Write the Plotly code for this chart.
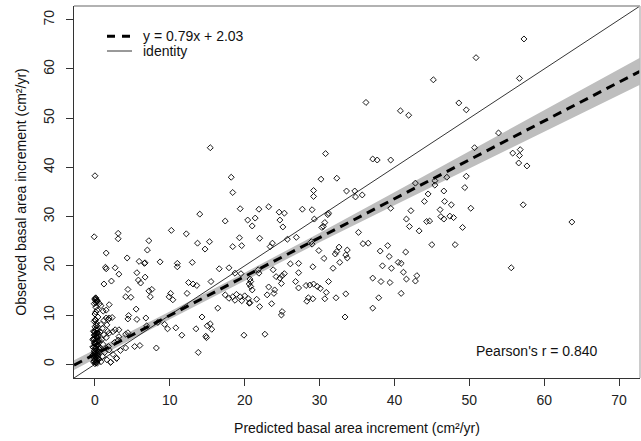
import plotly.graph_objects as go

# Predicted vs observed basal area increment (cm²/yr)
pred = [
    # cluster of near-zero predictions
    0.0, 0.1, -0.2, 0.2, 0.0, 0.3, -0.1, 0.1, 0.4, -0.2, 0.0, 0.2, 0.5, -0.1, 0.3, 0.0, 0.1, -0.3,
    0.2, 0.4, 0.0, -0.1, 0.3, 0.1, 0.6, -0.2, 0.0, 0.2, 0.4, -0.1, 0.1, 0.3, 0.0, -0.2, 0.2, 0.1,
    0.3, -0.1, 0.5, 0.2, -0.3, 0.4, 0.1, 0.6, -0.2, 0.3, 0.1, 0.5, -0.3, 0.3, 0.0, 0.5, -0.1, 0.4,
    0.0, 0.2, 0.1, 0.0, 0.3, 0.1, -0.1, 0.2, 0.0, 0.1, 0.3, 0.0, 0.2, -0.1, 0.4, 0.1,
    0.8, 1.0, 1.3, 0.7, 1.1, 0.9, 1.5, 1.8, 2.1, 2.9, 1.6, 2.4, 1.2, 0.7, 2.6, 3.4, 1.9,
    0.2, 0.0, 0.4, 0.1, 0.3, -0.1, 0.2, 0.5, 0.0, 0.3, 0.1, 0.4, -0.2, 0.2, 0.0, 0.3,
    0.0, -0.1,
    # low predictions
    3.1, 3.1, 7.2, 10.2, 12.2, 1.5, 7.0, 13.7, 15.3, 14.7, 18.4, 19.6, 19.3, 4.3, 5.9, 6.6, 6.7,
    8.7, 11.0, 11.0, 13.0, 1.4, 1.5, 2.7, 3.2, 1.2, 2.2, 5.6, 5.8, 6.1, 6.7, 7.2, 7.6, 4.4, 4.1,
    4.8, 7.4, 10.1, 9.9, 10.4, 12.3, 12.5, 13.1, 13.6, 15.5, 16.6, 17.9, 18.7, 19.5, 20.7, 21.9,
    20.6, 20.8, 21.0, 20.0, 20.5, 20.7, 0.1, 0.2, 0.3, 0.1, 0.6, 0.8, 1.1, 1.5, 1.9, 0.0, 0.0, 0.2,
    1.5, 1.8, 1.9, 2.3, 0.8, 1.0, 1.2, 1.6, 1.7, 1.9, 2.4, 2.7, 3.2, 3.2, 3.1, 4.1, 4.4, 4.4, 5.6,
    5.5, 4.5, 6.8, 6.9, 8.2, 9.7, 10.8, 8.4, 9.3, 4.1, 5.3, 6.0, 2.9, 2.1, 13.5, 14.8, 14.9, 11.6,
    13.8, 14.3, 15.0, 15.4, 15.6, 16.4, 17.9, 18.4, 18.7, 17.4, 18.9, 19.4, 19.6, 19.9, 21.6, 22.0,
    21.8,
    # upper-left scatter
    15.4, 14.0, 18.4, 19.4, 20.4, 17.4, 18.2,
    # mid-range predictions
    36.2, 40.8, 41.9, 48.6, 49.6, 30.8, 37.1, 37.7, 39.5, 30.2, 32.3, 29.2, 29.2, 33.6, 34.7, 34.8,
    35.7, 21.9, 23.2, 21.4, 21.0, 24.6, 25.3, 24.7, 25.1, 27.7, 29.0, 31.2, 31.1, 29.3, 30.7, 30.5,
    39.5, 42.8, 45.4, 45.4, 47.0, 49.6, 49.4, 50.7, 53.9, 41.6, 42.0, 42.2, 43.3, 44.0, 44.3, 44.7,
    44.5, 46.6, 46.7, 47.6, 46.1, 46.2, 46.6, 47.4, 47.9, 49.1, 50.2, 45.0, 48.1, 35.2, 35.8, 36.5,
    32.6, 32.3, 32.1, 29.9, 33.7, 33.5, 33.7, 32.7, 31.8, 30.6, 30.3, 29.1, 31.2, 27.2, 26.1, 27.2,
    26.8, 27.2, 28.2, 28.7, 29.2, 29.7, 30.1, 30.9, 28.5, 29.1, 28.3, 30.7, 32.2, 33.5, 33.4, 25.0,
    24.9, 23.6, 22.7, 23.0, 23.2, 24.0, 23.9, 24.2, 24.9, 24.7, 25.3, 25.0, 23.8, 26.9, 25.7, 23.7,
    23.4, 22.0, 28.9, 29.0, 20.8, 20.6, 37.1, 38.2, 39.4, 38.4, 39.6, 38.1, 39.1, 39.3, 40.5, 40.9,
    41.5, 41.2, 41.6, 42.8, 43.0, 40.9, 37.9, 37.1,
    # high predictions
    45.2, 57.3, 50.9, 56.7, 55.8, 56.8, 56.7, 56.6, 57.7, 57.2, 63.7, 55.6,
]

obs = [
    0.1, 0.3, 0.5, 0.7, 0.9, 1.1, 1.3, 1.5, 1.7, 1.9, 2.1, 2.3, 2.5, 2.7, 2.9, 3.1, 3.3, 3.5,
    3.7, 3.9, 4.1, 4.3, 4.5, 4.7, 4.9, 5.1, 5.3, 5.5, 5.7, 5.9, 6.1, 6.3, 6.5, 6.7, 6.9, 7.1,
    0.2, 0.6, 1.0, 1.4, 1.8, 2.2, 2.6, 3.0, 3.4, 3.8, 4.2, 4.6, 5.0, 5.4, 5.8, 6.2, 6.6, 7.0,
    7.6, 8.3, 9.0, 10.2, 11.0, 11.6, 12.3, 12.7, 13.1, 13.5, 12.9, 13.3, 7.9, 8.7, 9.6, 10.6,
    0.5, 1.6, 2.4, 3.2, 4.0, 5.0, 5.4, 3.6, 0.4, 1.2, 0.9, 2.0, 6.0, 6.6, 4.4, 2.8, 2.9,
    0.4, 0.8, 1.2, 1.6, 2.0, 2.4, 2.8, 3.2, 3.6, 4.0, 4.4, 4.8, 5.2, 5.6, 6.0, 6.4,
    38.3, 25.9,
    26.6, 25.5, 25.1, 27.2, 26.5, 22.6, 23.2, 24.6, 24.9, 23.4, 23.9, 24.1, 25.7, 21.6, 20.9, 20.5, 20.6,
    20.8, 20.5, 19.8, 20.7, 19.7, 19.4, 19.6, 18.3, 16.3, 16.9, 18.6, 17.1, 16.5, 17.7, 14.9, 15.2, 15.2, 13.7,
    13.6, 13.7, 14.4, 13.7, 13.1, 14.4, 16.6, 16.3, 16.0, 16.8, 19.4, 19.6, 18.5, 18.4, 17.3, 18.5,
    16.3, 15.8, 15.1, 13.9, 13.3, 12.5, 13.4, 13.1, 12.8, 12.5, 12.3, 11.9, 10.8, 11.0, 12.1, 10.2, 9.0, 7.8,
    9.4, 9.1, 9.4, 9.5, 8.1, 7.3, 8.9, 8.0, 6.7, 6.3, 6.6, 7.0, 7.0, 5.6, 4.9, 6.1, 6.4, 9.2, 9.1,
    11.2, 9.9, 9.4, 7.8, 3.3, 7.2, 7.4, 8.5, 8.1, 3.3, 3.6, 3.8, 1.2, 0.4, 7.2, 5.7, 5.4, 5.9,
    2.4, 9.6, 7.8, 8.2, 7.1, 11.4, 13.4, 13.7, 13.0, 14.1, 14.2, 13.7, 12.9, 5.9, 13.2, 11.7,
    19.2,
    44.0, 30.5, 34.9, 31.6, 29.3, 29.1, 38.0,
    53.2, 51.5, 50.6, 53.1, 51.7, 42.8, 41.7, 41.5, 41.5, 37.6, 37.8, 35.3, 34.1, 35.2, 35.2, 34.0,
    34.4, 31.5, 32.0, 29.7, 28.1, 30.9, 30.7, 29.3, 27.9, 31.5, 31.4, 30.7, 30.4, 29.5, 28.8, 28.0,
    31.7, 36.8, 37.3, 36.4, 38.0, 38.2, 35.9, 44.0, 47.0, 29.5, 28.0, 31.2, 27.1, 33.1, 29.0, 29.1,
    34.6, 35.2, 33.1, 32.4, 31.4, 30.0, 29.5, 30.1, 29.8, 27.8, 31.7, 24.3, 24.3, 26.8, 24.5, 24.6,
    23.8, 22.9, 22.4, 23.1, 23.2, 22.2, 21.6, 20.7, 19.5, 21.5, 27.8, 19.8, 16.8, 20.5, 20.4, 18.6,
    16.8, 15.5, 16.0, 16.1, 16.3, 15.8, 15.4, 14.6, 13.5, 13.3, 12.8, 13.3, 13.5, 14.3, 9.6, 10.7,
    10.0, 12.3, 6.1, 14.1, 15.7, 15.1, 14.4, 17.8, 16.4, 17.5, 18.4, 18.0, 19.2, 25.8, 25.4, 24.6,
    23.9, 25.6, 24.9, 24.4, 16.8, 12.4, 17.5, 16.8, 16.6, 20.0, 19.5, 23.0, 24.1, 21.9, 20.7, 20.5,
    22.8, 18.7, 17.3, 16.9, 18.0, 14.4, 13.5, 11.4,
    57.8, 66.1, 62.3, 58.1, 42.9, 43.6, 42.4, 40.9, 40.3, 32.4, 28.9, 19.6,
]

# Fitted regression and its confidence band half-widths
slope, intercept = 0.79, 2.03
pearson_r = 0.840
band_x = [-2.8, 0, 10, 20, 30, 40, 50, 60, 72.8]
band_half = [1.0, 0.92, 0.78, 0.78, 0.95, 1.3, 1.7, 2.15, 2.75]

x_range = [-2.8, 72.8]
y_range = [-2.8, 72.8]
ticks = [0, 10, 20, 30, 40, 50, 60, 70]

fit_line = [slope * x + intercept for x in band_x]
upper = [f + h for f, h in zip(fit_line, band_half)]
lower = [f - h for f, h in zip(fit_line, band_half)]

FONT = "Liberation Sans, Arial, sans-serif"

fig = go.Figure()

fig.add_trace(go.Scatter(
    x=band_x + band_x[::-1], y=upper + lower[::-1],
    fill="toself", fillcolor="rgb(190,190,190)", line=dict(width=0),
    mode="lines", hoverinfo="skip", showlegend=False,
))

fig.add_trace(go.Scatter(
    x=pred, y=obs, mode="markers",
    marker=dict(symbol="diamond-open", size=4.6, color="black", line=dict(width=0.9, color="black")),
    showlegend=False,
))

fig.add_trace(go.Scatter(
    x=x_range, y=y_range, mode="lines",
    line=dict(color="black", width=0.8), showlegend=False,
))

fig.add_trace(go.Scatter(
    x=band_x, y=fit_line, mode="lines",
    line=dict(color="black", width=3, dash="9px,6px"), showlegend=False,
))

axis_common = dict(
    showgrid=False, zeroline=False, showline=True, linecolor="#333", linewidth=1,
    ticks="outside", ticklen=7, tickcolor="#333", tickwidth=1,
    tickvals=ticks, tickfont=dict(family=FONT, size=14, color="#222"),
    title_font=dict(family=FONT, size=14, color="#111"),
)

fig.update_layout(
    width=641, height=441,
    margin=dict(l=74, r=1, t=6, b=63),
    paper_bgcolor="white", plot_bgcolor="white",
    xaxis=dict(range=x_range, title=dict(text="Predicted basal area increment (cm²/yr)", standoff=16),
               ticklabelstandoff=2, **axis_common),
    yaxis=dict(range=y_range, title=dict(text="Observed basal area increment (cm²/yr)", standoff=11),
               tickangle=-90, ticklabelstandoff=6, **axis_common),
    shapes=[
        dict(type="line", xref="paper", yref="paper", x0=0, x1=1, y0=1, y1=1,
             line=dict(color="#999", width=1.5)),
        dict(type="line", xref="paper", yref="paper", x0=1, x1=1, y0=0, y1=1,
             line=dict(color="#bbb", width=1.5)),
        dict(type="line", xref="paper", yref="paper", x0=0.0583, x1=0.1025, y0=0.919, y1=0.919,
             line=dict(color="black", width=3, dash="8px,7px")),
        dict(type="line", xref="paper", yref="paper", x0=0.0583, x1=0.1025, y0=0.879, y1=0.879,
             line=dict(color="black", width=0.8)),
    ],
    annotations=[
        dict(text=f"y = {slope}x + {intercept}", xref="paper", yref="paper", x=0.119, y=0.919,
             xanchor="left", yanchor="middle", showarrow=False,
             font=dict(family=FONT, size=14, color="#111")),
        dict(text="identity", xref="paper", yref="paper", x=0.119, y=0.879,
             xanchor="left", yanchor="middle", showarrow=False,
             font=dict(family=FONT, size=14, color="#111")),
        dict(text=f"Pearson's r = {pearson_r:.3f}", xref="paper", yref="paper", x=0.818, y=0.0726,
             xanchor="center", yanchor="middle", showarrow=False,
             font=dict(family=FONT, size=14, color="#111")),
    ],
)

fig.write_html("out.html")
